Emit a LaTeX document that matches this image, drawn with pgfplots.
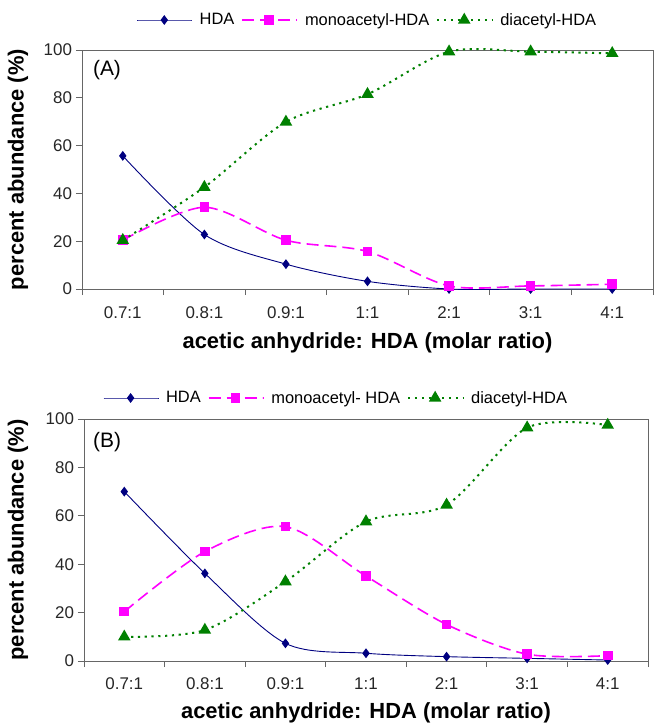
\documentclass[border=0pt]{standalone}
\usepackage{fontspec}
\setmainfont{Liberation Sans}
\usepackage{pgfplots}
\pgfplotsset{compat=1.18}

\definecolor{hdaNavy}{RGB}{0,0,128}
\definecolor{monoMag}{RGB}{255,0,255}
\definecolor{diGreen}{RGB}{0,128,0}

\newcommand{\ticksz}{\fontsize{17}{20}\selectfont}
\newcommand{\legsz}{\fontsize{16.5}{20}\selectfont}
\newcommand{\labsz}{\fontsize{22}{25}\selectfont\bfseries}

\pgfplotsset{
  panel/.style={
    scale only axis,
    xmin=-0.5, xmax=6.5, ymin=0, ymax=100,
    xtick={0,...,6},
    xticklabels={0.7:1,0.8:1,0.9:1,1:1,2:1,3:1,4:1},
    ytick={0,20,...,100},
    minor xtick={-0.5,0.5,...,6.5},
    minor ytick={0,20,...,100},
    major tick length=0pt, minor tick length=6bp,
    tick align=outside, xtick pos=bottom, ytick pos=left,
    axis line style={black!60, line width=0.9bp},
    every tick/.append style={black!60, line width=0.9bp},
    tick label style={font=\ticksz, text=black!85},
    xticklabel style={anchor=base},
    yticklabel style={anchor=east, xshift=-6.5bp},
    /pgf/number format/assume math mode=true,
    clip=false,
    legend columns=-1,
    legend cell align=left,
    legend style={draw=none, fill=none, font=\legsz, anchor=center,
      /tikz/every odd column/.append style={column sep=5bp},
      /tikz/every even column/.append style={column sep=5bp}},
    legend image code/.code={
      \draw[mark repeat=2, mark phase=2, #1]
        plot coordinates {(0bp,0bp) (27bp,0bp) (55bp,0bp)};},
  },
  hda/.style={color=hdaNavy, line width=0.9bp, smooth, mark=diamond*, mark size=4.2bp, mark options={solid}},
  mono/.style={color=monoMag, line width=1.6bp, smooth, dash pattern=on 12bp off 6bp, mark=square*, mark size=4bp, mark options={solid}},
  di/.style={color=diGreen, line width=2bp, smooth, dash pattern=on 2.2bp off 4.6bp, mark=triangle*, mark size=5.3bp, mark options={solid}},
}

\begin{document}
\begin{tikzpicture}
\useasboundingbox (-82bp,-436bp) rectangle (573bp,289bp);

% panel A
\begin{axis}[panel,
  at={(0bp,0bp)}, anchor=south west,
  width=571bp, height=239bp,
  xticklabel style={yshift=-29.1bp},
  xlabel={acetic anhydride: HDA (molar ratio)},
  ylabel={percent abundance (\%)},
  every axis x label/.style={at={(axis description cs:0.5,-0.226)}, anchor=center, font=\labsz},
  every axis y label/.style={at={(axis description cs:-0.112,0.5)}, anchor=center, rotate=90, font=\labsz},
  legend style={at={(0.5,1.1255)}},
]
\addplot[hda] coordinates {(0,55.7) (1,22.8) (2,10.4) (3,3.2) (4,0) (5,0) (6,0)};
\addplot[mono] coordinates {(0,20.4) (1,34.2) (2,20.4) (3,15.7) (4,1.3) (5,1.3) (6,2.0)};
\addplot[di] coordinates {(0,20.4) (1,42.6) (2,69.9) (3,81.5) (4,99.3) (5,99.3) (6,98.6)};
\legend{HDA, monoacetyl-HDA\hspace{13bp}, diacetyl-HDA}
\node[anchor=west, font=\fontsize{21}{24}\selectfont, inner sep=0pt] at (axis description cs:0.019,0.916) {(A)};
\end{axis}

% panel B
\begin{axis}[panel,
  at={(2bp,-372bp)}, anchor=south west,
  width=564bp, height=242bp,
  xticklabel style={yshift=-28.1bp},
  xlabel={acetic anhydride: HDA (molar ratio)},
  ylabel={percent abundance (\%)},
  every axis x label/.style={at={(axis description cs:0.5,-0.215)}, anchor=center, font=\labsz},
  every axis y label/.style={at={(axis description cs:-0.117,0.5)}, anchor=center, rotate=90, font=\labsz},
  legend style={at={(0.447,1.0868)}},
]
\addplot[hda] coordinates {(0,70.0) (1,36.2) (2,7.3) (3,3.2) (4,1.8) (5,1.1) (6,0.4)};
\addplot[mono] coordinates {(0,20.4) (1,45.2) (2,55.5) (3,35.1) (4,15.1) (5,2.8) (6,2.2)};
\addplot[di] coordinates {(0,10.0) (1,12.8) (2,32.8) (3,57.6) (4,64.5) (5,96.4) (6,97.5)};
\legend{HDA, monoacetyl- HDA\hspace{16bp}, diacetyl-HDA}
\node[anchor=west, font=\fontsize{21}{24}\selectfont, inner sep=0pt] at (axis description cs:0.016,0.905) {(B)};
\end{axis}
\end{tikzpicture}
\end{document}
